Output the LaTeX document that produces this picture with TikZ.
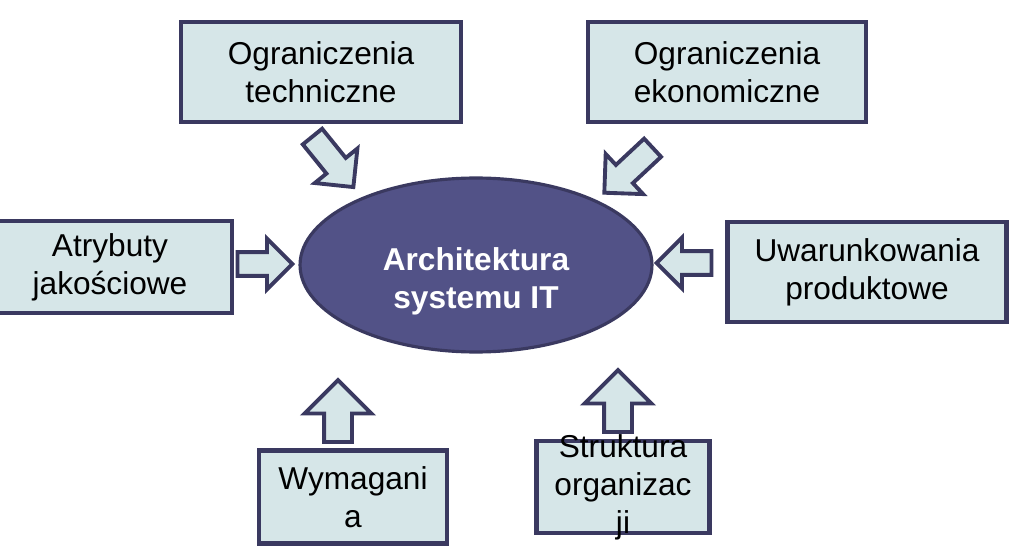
\documentclass[tikz,border=0pt]{standalone}
\usepackage{fontspec}
\setmainfont{Liberation Sans}
\usetikzlibrary{shapes.geometric,shapes.arrows}
\definecolor{boxfill}{RGB}{214,230,232}
\definecolor{edgeblue}{RGB}{58,57,96}
\definecolor{corefill}{RGB}{82,82,135}
\begin{document}
\begin{tikzpicture}[x=0.02cm,y=-0.02cm,
  factor/.style={draw=edgeblue,line width=2.4pt,fill=boxfill,inner sep=0pt,align=center,
    font=\fontsize{18}{21.6}\selectfont},
  core/.style={ellipse,draw=edgeblue,line width=1.8pt,fill=corefill,inner sep=0pt,
    minimum width=7.04cm,minimum height=3.48cm},
  coretext/.style={align=center,text=white,font=\fontsize{18}{21.6}\selectfont\bfseries},
  push/.style={single arrow,draw=edgeblue,line width=2.2pt,fill=boxfill,inner xsep=0pt,
    single arrow tip angle=90}]
\clip (0,0) rectangle (1013,550);
\fill[white] (0,0) rectangle (1013,550);

\node[core] (arch) at (476,265) {};
\node[coretext] (archtext) at ([yshift=-0.32cm]arch.center) {Architektura\\systemu IT};

\node[factor,minimum width=5.6cm,minimum height=2cm] (tech) at (321,72) {Ograniczenia\\techniczne};
\node[factor,minimum width=5.56cm,minimum height=2cm] (eko) at (727,72) {Ograniczenia\\ekonomiczne};
\node[factor,minimum width=4.88cm,minimum height=1.84cm] (atr) at (110,267) {Atrybuty\\jakościowe};
\node[factor,minimum width=5.58cm,minimum height=2cm] (uwar) at (867,272) {Uwarunkowania\\produktowe};
\node[factor,minimum width=3.76cm,minimum height=1.86cm] (wym) at (353,497) {Wymagani\\a};
\node[factor,minimum width=3.46cm,minimum height=1.84cm] (str) at (623,487) {};
\node[align=center,font=\fontsize{18}{21.6}\selectfont] (strtext) at (str.center) {Struktura\\organizac\\ji};

\node[push,rotate=-51,inner ysep=0.21cm,minimum height=1.3cm,single arrow head extend=0.3cm] (techarrow) at (329,157) {};
\node[push,rotate=-137,inner ysep=0.21cm,minimum height=1.32cm,single arrow head extend=0.3cm] (ekoarrow) at (633,166) {};
\node[push,inner ysep=0.2cm,minimum height=1.1cm,single arrow head extend=0.27cm] (atrarrow) at (259,264) {};
\node[push,rotate=180,inner ysep=0.2cm,minimum height=1.1cm,single arrow head extend=0.27cm] (uwararrow) at (690,263) {};
\node[push,rotate=90,inner ysep=0.24cm,minimum height=1.24cm,single arrow head extend=0.39cm] (wymarrow) at (338,418) {};
\node[push,rotate=90,inner ysep=0.24cm,minimum height=1.24cm,single arrow head extend=0.39cm] (strarrow) at (618,408) {};
\end{tikzpicture}
\end{document}
